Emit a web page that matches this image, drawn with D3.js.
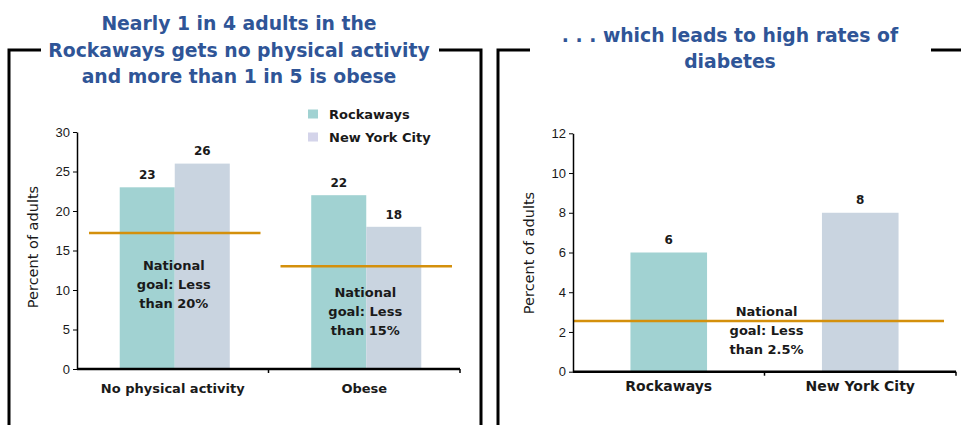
<!DOCTYPE html>
<html>
<head>
<meta charset="utf-8">
<script src="https://cdn.jsdelivr.net/npm/d3@7"></script>
<style>
  body { margin: 0; background: #fff; }
  svg { display: block; font-family: "DejaVu Sans", Verdana, sans-serif; }
  .tick text { font-size: 13px; fill: #1a1a1a; }
</style>
</head>
<body>
<div id="chart"></div>
<script>
(function () {

    // ---- data ----
    const leftCategories = ['No physical activity', 'Obese'];
    const leftSeries = ['Rockaways', 'New York City'];
    const rockawaysValues = [23, 22];
    const nycValues = [26, 18];
    const leftGoals = [17.2, 13];
    const leftGoalLabels = [
        ['National', 'goal: Less', 'than 20%'],
        ['National', 'goal: Less', 'than 15%']
    ];
    const leftTicks = [0, 5, 10, 15, 20, 25, 30];

    const rightCategories = ['Rockaways', 'New York City'];
    const diabetesValues = [6, 8];
    const rightGoal = 2.55;
    const rightGoalLabel = ['National', 'goal: Less', 'than 2.5%'];
    const rightTicks = [0, 2, 4, 6, 8, 10, 12];

    const leftTitle = ['Nearly 1 in 4 adults in the', 'Rockaways gets no physical activity', 'and more than 1 in 5 is obese'];
    const rightTitle = ['. . . which leads to high rates of', 'diabetes'];

    const colors = {'Rockaways': '#a1d2d2', 'New York City': '#c9d4e0'};
    const legendColors = {'Rockaways': '#a1d2d2', 'New York City': '#d4d4ea'};
    const goalColor = '#d4900c';
    const titleColor = '#2f5597';
    const textColor = '#1a1a1a';

    const svg = d3.select('#chart').append('svg')
        .attr('width', 961)
        .attr('height', 425);

    // panel frames
    const frames = [
        'M41,50H9V425', 'M439,50H481V425',
        'M530,50H498V425', 'M931,50H961'
    ];
    svg.selectAll('path.frame')
        .data(frames)
        .enter().append('path')
        .attr('class', 'frame')
        .attr('d', d => d)
        .attr('fill', 'none')
        .attr('stroke', '#000')
        .attr('stroke-width', 3);

    // titles
    function title(lines, cx, y0) {
        svg.append('g').selectAll('text')
            .data(lines)
            .enter().append('text')
            .attr('x', cx)
            .attr('y', (d, i) => y0 + i * 26.5)
            .attr('text-anchor', 'middle')
            .attr('font-size', 18.8)
            .attr('font-weight', 'bold')
            .attr('fill', titleColor)
            .text(d => d);
    }
    title(leftTitle, 239, 30);
    title(rightTitle, 730, 41.5);

    function yAxisLabel(x, y) {
        svg.append('text')
            .attr('transform', 'translate(' + x + ',' + y + ') rotate(-90)')
            .attr('text-anchor', 'middle')
            .attr('dy', '0.35em')
            .attr('font-size', 14.5)
            .attr('fill', textColor)
            .text('Percent of adults');
    }

    function goalText(lines, cx, cy) {
        svg.append('g').selectAll('text')
            .data(lines)
            .enter().append('text')
            .attr('x', cx)
            .attr('y', (d, i) => cy + i * 19)
            .attr('dy', '0.35em')
            .attr('text-anchor', 'middle')
            .attr('font-size', 13)
            .attr('font-weight', 'bold')
            .attr('fill', textColor)
            .text(d => d);
    }

    function styleYAxis(g) {
        g.select('.domain').attr('stroke', '#000').attr('stroke-width', 1.5);
        g.selectAll('.tick line').attr('stroke', '#000');
        g.selectAll('.tick text').attr('font-family', null);
    }

    // ---- left chart: grouped bars ----
    const x0 = d3.scaleBand().domain(leftCategories).range([77, 460]);
    const x1 = d3.scaleBand().domain(leftSeries)
        .range([0, x0.bandwidth()]).paddingOuter(0.74);
    const yL = d3.scaleLinear().domain([0, 30]).range([369, 132]);

    const rows = leftCategories.map((c, i) => ({
        cat: c,
        vals: [
            {key: 'Rockaways', value: rockawaysValues[i]},
            {key: 'New York City', value: nycValues[i]}
        ]
    }));

    const groups = svg.append('g').selectAll('g')
        .data(rows)
        .enter().append('g')
        .attr('transform', d => 'translate(' + (x0(d.cat) + 2) + ',0)');

    groups.selectAll('rect')
        .data(d => d.vals)
        .enter().append('rect')
        .attr('x', d => x1(d.key))
        .attr('y', d => yL(d.value))
        .attr('width', x1.bandwidth())
        .attr('height', d => yL(0) - yL(d.value))
        .attr('fill', d => colors[d.key]);

    groups.selectAll('text')
        .data(d => d.vals)
        .enter().append('text')
        .attr('x', d => x1(d.key) + x1.bandwidth() / 2)
        .attr('y', d => yL(d.value) - 12.5)
        .attr('dy', '0.35em')
        .attr('text-anchor', 'middle')
        .attr('font-size', 12)
        .attr('font-weight', 'bold')
        .attr('fill', textColor)
        .text(d => d.value);

    // goal lines
    svg.append('g').selectAll('line')
        .data(leftGoals)
        .enter().append('line')
        .attr('x1', (d, i) => x0(leftCategories[i]) + 12)
        .attr('x2', (d, i) => x0(leftCategories[i]) + x0.bandwidth() - 8)
        .attr('y1', d => yL(d))
        .attr('y2', d => yL(d))
        .attr('stroke', goalColor)
        .attr('stroke-width', 2.5);

    const goalDy = [32, 26];
    leftGoalLabels.forEach((lines, i) => {
        goalText(lines, x0(leftCategories[i]) + x0.bandwidth() / 2 + 1, yL(leftGoals[i]) + goalDy[i]);
    });

    // y axis
    svg.append('g')
        .attr('transform', 'translate(77,0)')
        .call(d3.axisLeft(yL).tickValues(leftTicks).tickSize(4).tickSizeOuter(0).tickPadding(3))
        .call(styleYAxis);

    // x axis
    svg.append('line')
        .attr('x1', x0.range()[0]).attr('x2', x0.range()[1])
        .attr('y1', yL(0)).attr('y2', yL(0))
        .attr('stroke', '#000').attr('stroke-width', 2.5);
    svg.append('g').selectAll('line')
        .data(leftCategories)
        .enter().append('line')
        .attr('x1', d => x0(d) + x0.bandwidth())
        .attr('x2', d => x0(d) + x0.bandwidth())
        .attr('y1', yL(0)).attr('y2', yL(0) + 4)
        .attr('stroke', '#000').attr('stroke-width', 1.5);
    svg.append('g').selectAll('text')
        .data(leftCategories)
        .enter().append('text')
        .attr('x', d => x0(d) + x0.bandwidth() / 2)
        .attr('y', yL(0) + 19)
        .attr('dy', '0.35em')
        .attr('text-anchor', 'middle')
        .attr('font-size', 13)
        .attr('font-weight', 'bold')
        .attr('fill', textColor)
        .text(d => d);

    yAxisLabel(33, 247);

    // legend
    const legend = svg.append('g').selectAll('g')
        .data(leftSeries)
        .enter().append('g')
        .attr('transform', (d, i) => 'translate(308,' + (114 + i * 23) + ')');
    legend.append('rect')
        .attr('x', 0).attr('y', -4.5)
        .attr('width', 10).attr('height', 9)
        .attr('fill', d => legendColors[d]);
    legend.append('text')
        .attr('x', 21)
        .attr('dy', '0.35em')
        .attr('font-size', 13)
        .attr('font-weight', 'bold')
        .attr('fill', textColor)
        .text(d => d);

    // ---- right chart: diabetes ----
    const xR = d3.scaleBand().domain(rightCategories)
        .range([573, 956]).paddingInner(0.6).paddingOuter(0.3);
    const yR = d3.scaleLinear().domain([0, 12]).range([371.7, 133.3]);
    const stepR = xR.step();

    svg.append('g').selectAll('rect')
        .data(rightCategories)
        .enter().append('rect')
        .attr('x', d => xR(d))
        .attr('y', (d, i) => yR(diabetesValues[i]))
        .attr('width', xR.bandwidth())
        .attr('height', (d, i) => yR(0) - yR(diabetesValues[i]))
        .attr('fill', d => colors[d]);

    svg.append('g').selectAll('text')
        .data(rightCategories)
        .enter().append('text')
        .attr('x', d => xR(d) + xR.bandwidth() / 2)
        .attr('y', (d, i) => yR(diabetesValues[i]) - 12.5)
        .attr('dy', '0.35em')
        .attr('text-anchor', 'middle')
        .attr('font-size', 12)
        .attr('font-weight', 'bold')
        .attr('fill', textColor)
        .text((d, i) => diabetesValues[i]);

    svg.append('line')
        .attr('x1', 573).attr('x2', 944)
        .attr('y1', yR(rightGoal)).attr('y2', yR(rightGoal))
        .attr('stroke', goalColor)
        .attr('stroke-width', 2.5);

    goalText(rightGoalLabel, 573 + stepR + 2, yR(rightGoal) - 10);

    svg.append('g')
        .attr('transform', 'translate(573,0)')
        .call(d3.axisLeft(yR).tickValues(rightTicks).tickSize(4).tickSizeOuter(0).tickPadding(3))
        .call(styleYAxis);

    svg.append('line')
        .attr('x1', 573).attr('x2', 956)
        .attr('y1', yR(0)).attr('y2', yR(0))
        .attr('stroke', '#000').attr('stroke-width', 2.5);
    svg.append('g').selectAll('line')
        .data(rightCategories)
        .enter().append('line')
        .attr('x1', (d, i) => 573 + stepR * (i + 1))
        .attr('x2', (d, i) => 573 + stepR * (i + 1))
        .attr('y1', yR(0)).attr('y2', yR(0) + 4)
        .attr('stroke', '#000').attr('stroke-width', 1.5);
    svg.append('g').selectAll('text')
        .data(rightCategories)
        .enter().append('text')
        .attr('x', d => xR(d) + xR.bandwidth() / 2)
        .attr('y', yR(0) + 14.5)
        .attr('dy', '0.35em')
        .attr('text-anchor', 'middle')
        .attr('font-size', 14)
        .attr('font-weight', 'bold')
        .attr('fill', textColor)
        .text(d => d);

    yAxisLabel(529, 253);
})();
</script>
</body>
</html>
